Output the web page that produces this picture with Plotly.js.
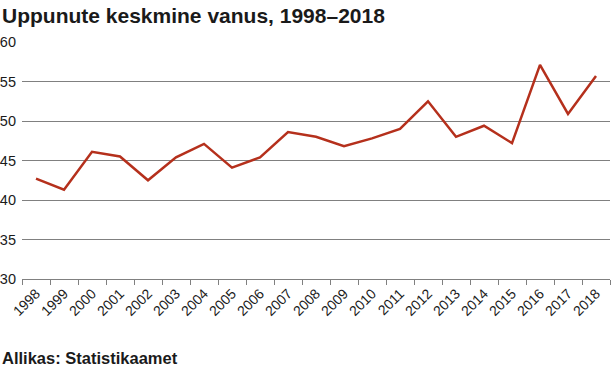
<!DOCTYPE html>
<html>
<head>
<meta charset="utf-8">
<script src="https://cdn.plot.ly/plotly-3.0.1.min.js"></script>
<style>html,body{margin:0;padding:0;background:#fff;}#chart{width:613px;height:372px;}</style>
</head>
<body>
<div id="chart"></div>
<script>
const years = ["1998","1999","2000","2001","2002","2003","2004","2005","2006","2007","2008","2009","2010","2011","2012","2013","2014","2015","2016","2017","2018"];
const ages = [42.7,41.3,46.1,45.5,42.5,45.4,47.1,44.1,45.4,48.6,48.0,46.8,47.8,49.0,52.5,48.0,49.4,47.2,57.1,50.9,55.7];
const yTicks = [30,35,40,45,50,55,60];
const titleText = "Uppunute keskmine vanus, 1998–2018";
const sourceText = "Allikas: Statistikaamet";

const font = "Liberation Sans, Arial, sans-serif";
Plotly.newPlot("chart", [{
  type: "scatter",
  mode: "lines",
  x: years,
  y: ages,
  line: {color: "#b5301c", width: 2.5},
  hoverinfo: "x+y"
}], {
  width: 613, height: 372,
  margin: {l: 22, r: 3, t: 42, b: 93},
  paper_bgcolor: "#ffffff", plot_bgcolor: "#ffffff",
  font: {family: font, color: "#1a1a1a"},
  showlegend: false,
  title: {text: "<b>" + titleText + "</b>", x: 2/613, xref: "container", xanchor: "left", y: 1 - 8/372, yref: "container", yanchor: "top", font: {size: 21, family: font, color: "#1a1a1a"}, pad: {l: 0, t: 0, r: 0, b: 0}},
  xaxis: {
    type: "category", tickson: "boundaries", ticks: "outside", ticklen: 5, tickcolor: "#808080", tickwidth: 1,
    showline: true, linecolor: "#808080", linewidth: 1, showgrid: false, tickangle: -45,
    tickfont: {size: 14, family: font, color: "#1a1a1a"}, range: [-0.5, 20.5], fixedrange: true
  },
  yaxis: {
    range: [30, 60], tickvals: yTicks, ticktext: yTicks.map(String), showgrid: true, gridcolor: "#808080", gridwidth: 1,
    zeroline: false, showline: false, ticks: "", ticklabelstandoff: 5,
    tickfont: {size: 14.5, family: font, color: "#1a1a1a"}, fixedrange: true
  },
  annotations: [{
    text: "<b>" + sourceText + "</b>", xref: "paper", yref: "paper", x: 0, xanchor: "left", xshift: -22,
    y: 0, yshift: -68, yanchor: "top", showarrow: false, font: {size: 16.5, family: font, color: "#1a1a1a"}
  }]
}, {displayModeBar: false, staticPlot: true});
</script>
</body>
</html>
